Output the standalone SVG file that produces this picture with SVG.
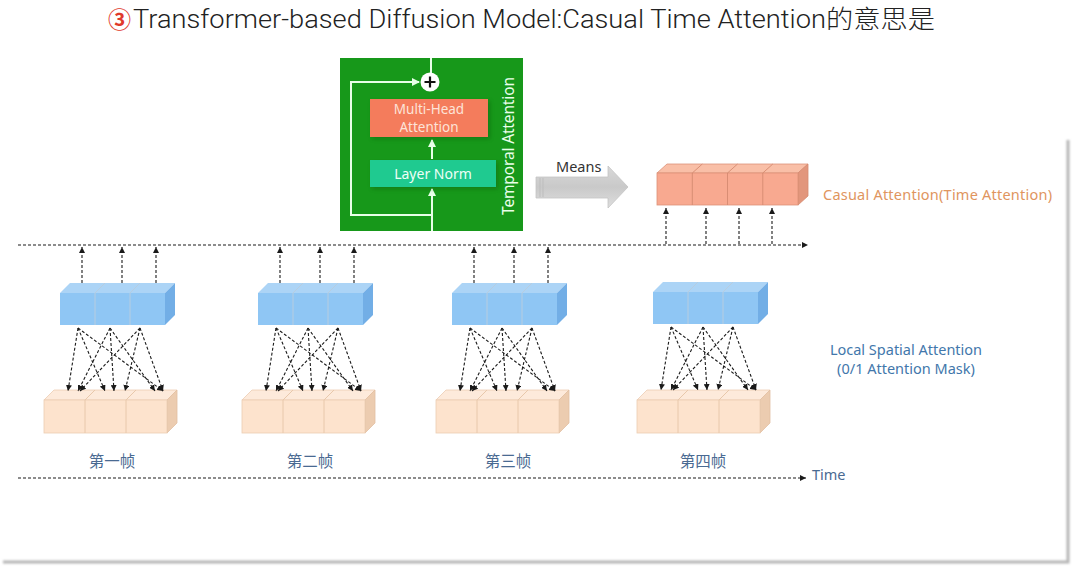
<svg xmlns="http://www.w3.org/2000/svg" xmlns:xlink="http://www.w3.org/1999/xlink" width="1080" height="570" viewBox="0 0 1080 570">
<style>
.dash{fill:none;stroke:#1a1a1a;stroke-width:1.1;stroke-dasharray:3 2}
.wl{fill:none;stroke:#e8ffe8;stroke-width:2}
.lbl{font-family:"Noto Sans","Noto Sans CJK SC",sans-serif}
.cn{font-family:"Noto Sans CJK SC","Noto Sans",sans-serif;font-size:15.5px;fill:#4a6a92}
</style>
<defs>
<marker id="ah" markerUnits="userSpaceOnUse" markerWidth="6" markerHeight="6" refX="6" refY="3" orient="auto">
<path d="M0,0 L6,3 L0,6 z" fill="#1a1a1a"/>
</marker>
<marker id="wh" markerUnits="userSpaceOnUse" markerWidth="8" markerHeight="8" refX="7" refY="4" orient="auto">
<path d="M0,0 L8,4 L0,8 z" fill="#e8ffe8"/>
</marker>
<linearGradient id="gArrow" x1="0" y1="0" x2="0" y2="1">
<stop offset="0" stop-color="#d9d9d9"/><stop offset="0.5" stop-color="#c9c9c9"/><stop offset="1" stop-color="#dedede"/>
</linearGradient>
<filter id="blur" x="-5%" y="-5%" width="110%" height="110%"><feGaussianBlur stdDeviation="1.3"/></filter>
<filter id="sh" x="-10%" y="-10%" width="120%" height="140%"><feGaussianBlur stdDeviation="2"/></filter>
<g id="blue">
<polygon points="0,10 10,0 115,0 105,10" fill="#acd4f6"/>
<polygon points="105,10 115,0 115,32 105,42" fill="#72aee6"/>
<rect x="0" y="10" width="105" height="32" fill="#8fc6f4"/>
<path d="M35,10 V42 M70,10 V42 M35,10 L45,0 M70,10 L80,0" stroke="#b7cde0" stroke-width="1" fill="none"/>
</g>
<g id="peach">
<polygon points="0,10 10,0 133,0 123,10" fill="#fdeadb" stroke="#eccdb2" stroke-width="0.8"/>
<polygon points="123,10 133,0 133,33 123,43" fill="#ecccb0" stroke="#e2bfa2" stroke-width="0.8"/>
<rect x="0" y="10" width="123" height="33" fill="#fde3cd" stroke="#eccdb2" stroke-width="0.8"/>
<path d="M41,10 V43 M82,10 V43 M41,10 L51,0 M82,10 L92,0" stroke="#e8c8ab" stroke-width="1" fill="none"/>
</g>
<g id="fan">
<path class="dash" marker-end="url(#ah)" d="M18,328 L8,391"/>
<path class="dash" marker-end="url(#ah)" d="M18,328 L45,391"/>
<path class="dash" marker-end="url(#ah)" d="M18,328 L103,391"/>
<path class="dash" marker-end="url(#ah)" d="M50,328 L18,391"/>
<path class="dash" marker-end="url(#ah)" d="M50,328 L54,391"/>
<path class="dash" marker-end="url(#ah)" d="M50,328 L95,391"/>
<path class="dash" marker-end="url(#ah)" d="M80,328 L20,391"/>
<path class="dash" marker-end="url(#ah)" d="M80,328 L65,391"/>
<path class="dash" marker-end="url(#ah)" d="M80,328 L103,391"/>
</g>
<g id="ups">
<path class="dash" marker-end="url(#ah)" d="M22,283 V247"/>
<path class="dash" marker-end="url(#ah)" d="M62,283 V247"/>
<path class="dash" marker-end="url(#ah)" d="M96,283 V247"/>
</g>
</defs>
<rect width="1080" height="570" fill="#fff"/>
<g id="slide-shadow">
<path d="M1068,140 V562 H3" fill="none" stroke="#b5b5b5" stroke-width="3" filter="url(#blur)"/>
</g>
<g id="title">
<text x="108" y="28" font-family="Noto Sans CJK SC,sans-serif" font-size="23" font-weight="bold" fill="#e0392b">③</text>
<text x="133" y="28" font-family="Roboto,'Noto Sans','Noto Sans CJK SC',sans-serif" font-weight="300" font-size="25" fill="#222" textLength="802" lengthAdjust="spacingAndGlyphs">Transformer-based Diffusion Model:Casual Time Attention的意思是</text>
</g>
<g id="temporal-block">
<rect x="340" y="58" width="183" height="173" fill="#17981a"/>
<path class="wl" d="M431,58 V73"/>
<path class="wl" d="M432,215 H351 V82 H419" marker-end="url(#wh)"/>
<path class="wl" d="M432,231 V189" marker-end="url(#wh)"/>
<path class="wl" d="M432,159 V140" marker-end="url(#wh)"/>
<rect x="372" y="101" width="118" height="38" fill="#0a4a0a" opacity="0.35" filter="url(#sh)"/>
<rect x="370" y="99" width="118" height="38" fill="#f47c5c"/>
<text x="429" y="114" text-anchor="middle" class="lbl" font-size="13.5" fill="#fde3d8">Multi-Head</text>
<text x="429" y="132" text-anchor="middle" class="lbl" font-size="13.5" fill="#fde3d8">Attention</text>
<rect x="372" y="162" width="126" height="27" fill="#0a4a0a" opacity="0.35" filter="url(#sh)"/>
<rect x="370" y="160" width="126" height="27" fill="#1fca90"/>
<text x="433" y="179" text-anchor="middle" class="lbl" font-size="14" fill="#eefff7">Layer Norm</text>
<circle cx="430" cy="82" r="9.5" fill="#fff"/>
<path d="M424.5,82 H435.5 M430,76.5 V87.5" stroke="#111" stroke-width="2.2"/>
<text transform="translate(514,146) rotate(-90)" text-anchor="middle" class="lbl" font-size="15.5" fill="#eaffea" textLength="138">Temporal  Attention</text>
</g>
<g id="means">
<polygon points="536,177 608,177 608,166 628,187 608,208 608,198 536,198" fill="url(#gArrow)" stroke="#c4c4c4" stroke-width="0.8"/>
<path d="M540,178 V197 M543,178 V197" stroke="#bdbdbd" stroke-width="1"/>
<text x="556" y="172" class="lbl" font-size="14.5" fill="#333">Means</text>
</g>
<g id="casual-attention">
<polygon points="657,173 667,164 808,164 798,173" fill="#f9bfa7" stroke="#dc9278" stroke-width="0.8"/>
<polygon points="798,173 808,164 808,196 798,205" fill="#e2967c" stroke="#d58a70" stroke-width="0.8"/>
<rect x="657" y="173" width="141" height="32" fill="#f8a990" stroke="#dc9278" stroke-width="0.8"/>
<path d="M692.3,173 V205 M727.5,173 V205 M762.8,173 V205 M692.3,173 L702.3,164 M727.5,173 L737.5,164 M762.8,173 L772.8,164" stroke="#d58a70" stroke-width="0.9" fill="none"/>
<text x="823" y="200" class="lbl" font-size="14.5" fill="#e0955e" textLength="229">Casual Attention(Time Attention)</text>
</g>
<g id="frame1">
<use href="#blue" x="60" y="283"/>
<use href="#peach" x="44" y="390"/>
<text x="112" y="467" text-anchor="middle" class="cn">第一帧</text>
</g>
<g id="frame2">
<use href="#blue" x="258" y="283"/>
<use href="#peach" x="242" y="390"/>
<text x="310" y="467" text-anchor="middle" class="cn">第二帧</text>
</g>
<g id="frame3">
<use href="#blue" x="452" y="283"/>
<use href="#peach" x="436" y="390"/>
<text x="508" y="467" text-anchor="middle" class="cn">第三帧</text>
</g>
<g id="frame4">
<use href="#blue" x="653" y="282"/>
<use href="#peach" x="637" y="390"/>
<text x="703" y="467" text-anchor="middle" class="cn">第四帧</text>
</g>
<g id="labels">
<text x="906" y="355" text-anchor="middle" class="lbl" font-size="14.5" fill="#4277ab">Local Spatial Attention</text>
<text x="906" y="374" text-anchor="middle" class="lbl" font-size="14.5" fill="#4277ab">(0/1 Attention Mask)</text>
<text x="812" y="480" class="lbl" font-size="14.5" fill="#4a6a92">Time</text>
</g>
<g id="connectors">
<path class="dash" marker-end="url(#ah)" d="M18,245 H808"/>
<path class="dash" marker-end="url(#ah)" d="M18,478 H806"/>
<use href="#ups" x="60" y="0"/>
<use href="#ups" x="258" y="0"/>
<use href="#ups" x="452" y="0"/>
<use href="#fan" x="60" y="0"/>
<use href="#fan" x="258" y="0"/>
<use href="#fan" x="452" y="0"/>
<use href="#fan" x="653" y="-1"/>
<path class="dash" marker-end="url(#ah)" d="M666,244 V208"/>
<path class="dash" marker-end="url(#ah)" d="M706,244 V208"/>
<path class="dash" marker-end="url(#ah)" d="M739,244 V208"/>
<path class="dash" marker-end="url(#ah)" d="M772,244 V208"/>
</g>
</svg>
